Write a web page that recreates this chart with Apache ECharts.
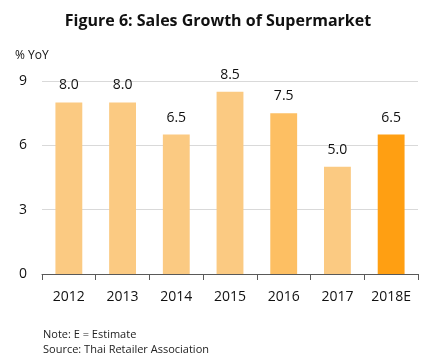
<!DOCTYPE html>
<html><head><meta charset="utf-8">
<script src="https://cdn.jsdelivr.net/npm/echarts@6/dist/echarts.min.js"></script>
<style>html,body{margin:0;padding:0;background:#fff}#c{width:436px;height:364px}</style>
</head><body><div id="c"></div>
<script>
var categories = ['2012','2013','2014','2015','2016','2017','2018E'];
var growth = [8.0, 8.0, 6.5, 8.5, 7.5, 5.0, 6.5];
var barColors = ['#FBCA82','#FBCA82','#FBCA82','#FBCA82','#FDBF63','#FBCA82','#FF9F12'];
var yTicks = [0, 3, 6, 9];
var font = '"Open Sans", sans-serif';
var chart = echarts.init(document.getElementById('c'));
chart.setOption({
  animation: false,
  title: [{
    text: 'Figure 6: Sales Growth of Supermarket', left: 'center', top: 8,
    textStyle: {fontFamily: font, fontWeight: 'bold', fontSize: 16, color: '#111'}
  },{
    text: '% YoY', left: 10, top: 45,
    textStyle: {fontFamily: font, fontWeight: 'normal', fontSize: 12, color: '#111'}
  },{
    text: 'Note: E = Estimate\nSource: Thai Retailer Association', left: 38, top: 322,
    textStyle: {fontFamily: font, fontWeight: 'normal', fontSize: 11, color: '#222', lineHeight: 15}
  }],
  grid: {left: 42, right: 18, top: 81, bottom: 90, containLabel: false},
  xAxis: {
    type: 'category', data: categories,
    axisLine: {lineStyle: {color: '#595959'}},
    axisTick: {show: true, length: 6, lineStyle: {color: '#595959'}},
    axisLabel: {fontFamily: font, fontSize: 14, color: '#111', margin: 16}
  },
  yAxis: {
    type: 'value', min: 0, max: 9, interval: 3,
    axisLine: {show: false}, axisTick: {show: false},
    splitLine: {lineStyle: {color: '#d9d9d9'}},
    axisLabel: {fontFamily: font, fontSize: 14, color: '#111', margin: 15,
      formatter: function(v){ return yTicks.indexOf(v) >= 0 ? String(v) : ''; }}
  },
  series: [{
    type: 'bar', barWidth: '50%',
    data: growth.map(function(v, i){ return {value: v, itemStyle: {color: barColors[i]}}; }),
    label: {show: true, position: 'top', distance: 10, fontFamily: font, fontSize: 14, color: '#111',
      formatter: function(p){ return p.value.toFixed(1); }}
  }]
});
</script></body></html>
